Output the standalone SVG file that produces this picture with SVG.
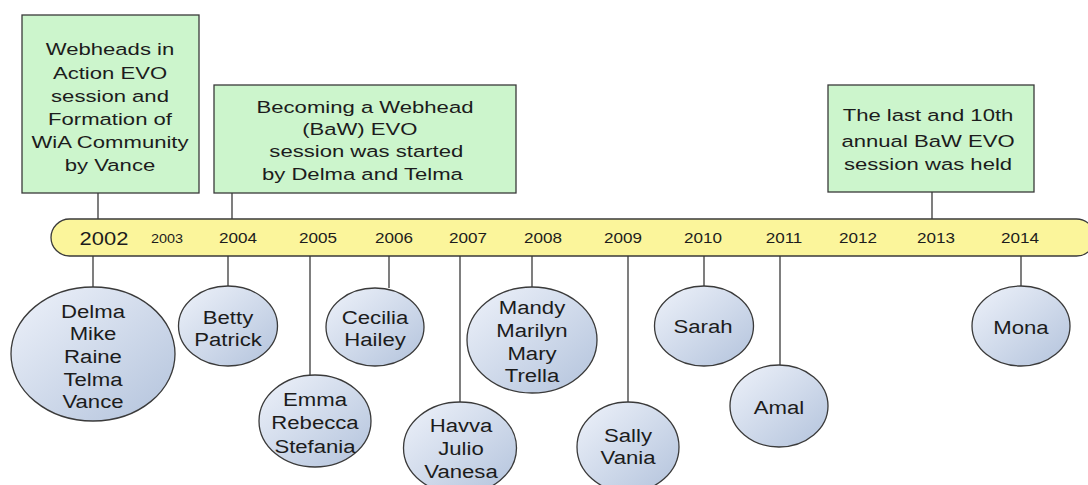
<svg xmlns="http://www.w3.org/2000/svg" width="1088" height="485" viewBox="0 0 1088 485">
<defs>
<linearGradient id="eg" x1="0" y1="0" x2="1" y2="1">
<stop offset="0" stop-color="#eef2fa"/>
<stop offset="1" stop-color="#b3c3dc"/>
</linearGradient>
<style>
.box{fill:#ccf5cc;stroke:#3a3a3a;stroke-width:1.3}
.ell{fill:url(#eg);stroke:#3a3a3a;stroke-width:1.3}
.tl{fill:#fbf59b;stroke:#3a3a3a;stroke-width:1.3}
.con line{stroke:#3a3a3a;stroke-width:1.3}
text{font-family:"Liberation Sans",Arial,sans-serif;fill:#1c1c1c;text-anchor:middle}
.t{font-size:17px}
.e{font-size:18px}
.y{font-size:14px}
</style>
</defs>
<rect width="1088" height="485" fill="#ffffff"/>

<g id="connectors" class="con">
<line x1="98" y1="193" x2="98" y2="219"/>
<line x1="232" y1="193" x2="232" y2="219"/>
<line x1="932" y1="192" x2="932" y2="219"/>
<line x1="93" y1="256" x2="93" y2="287"/>
<line x1="228" y1="256" x2="228" y2="287"/>
<line x1="310" y1="256" x2="310" y2="375"/>
<line x1="389" y1="256" x2="389" y2="288"/>
<line x1="460" y1="256" x2="460" y2="402"/>
<line x1="532" y1="256" x2="532" y2="287"/>
<line x1="628" y1="256" x2="628" y2="402"/>
<line x1="704" y1="256" x2="704" y2="287"/>
<line x1="780" y1="256" x2="780" y2="365"/>
<line x1="1021" y1="256" x2="1021" y2="287"/>
</g>

<g id="box-2002">
<rect class="box" x="22" y="15" width="177" height="178"/>
<text class="t" transform="translate(110,0) scale(1.3,1)"><tspan x="0" y="55">Webheads in</tspan><tspan x="0" y="79">Action EVO</tspan><tspan x="0" y="102">session and</tspan><tspan x="0" y="125">Formation of</tspan><tspan x="0" y="148">WiA Community</tspan><tspan x="0" y="171">by Vance</tspan></text>
</g>

<g id="box-2004">
<rect class="box" x="214" y="85" width="302" height="108"/>
<text class="t" transform="translate(365,0) scale(1.3,1)"><tspan x="0" y="113">Becoming a Webhead</tspan><tspan x="-4" y="135">(BaW) EVO</tspan><tspan x="1" y="157">session was started</tspan><tspan x="-2" y="180">by Delma and Telma</tspan></text>
</g>

<g id="box-2013">
<rect class="box" x="828" y="85" width="206" height="107"/>
<text class="t" transform="translate(928,0) scale(1.3,1)"><tspan x="0" y="121">The last and 10th</tspan><tspan x="0" y="147">annual BaW EVO</tspan><tspan x="0" y="170">session was held</tspan></text>
</g>

<g id="timeline">
<rect class="tl" x="51" y="219" width="1044" height="37" rx="18.5" ry="18.5"/>
<text style="font-size:18px" transform="translate(104,245) scale(1.22,1)">2002</text>
<text style="font-size:12px" transform="translate(167,243) scale(1.2,1)">2003</text>
<text class="y" transform="translate(238,243) scale(1.22,1)">2004</text>
<text class="y" transform="translate(318,243) scale(1.22,1)">2005</text>
<text class="y" transform="translate(394,243) scale(1.22,1)">2006</text>
<text class="y" transform="translate(468,243) scale(1.22,1)">2007</text>
<text class="y" transform="translate(543,243) scale(1.22,1)">2008</text>
<text class="y" transform="translate(623,243) scale(1.22,1)">2009</text>
<text class="y" transform="translate(703,243) scale(1.22,1)">2010</text>
<text class="y" transform="translate(784,243) scale(1.22,1)">2011</text>
<text class="y" transform="translate(858,243) scale(1.22,1)">2012</text>
<text class="y" transform="translate(936,243) scale(1.22,1)">2013</text>
<text class="y" transform="translate(1020,243) scale(1.22,1)">2014</text>
</g>

<g id="p-2002">
<ellipse class="ell" cx="93" cy="354" rx="82" ry="67"/>
<text class="e" transform="translate(93,0) scale(1.23,1)"><tspan x="0" y="318">Delma</tspan><tspan x="0" y="340">Mike</tspan><tspan x="0" y="363">Raine</tspan><tspan x="0" y="386">Telma</tspan><tspan x="0" y="408">Vance</tspan></text>
</g>
<g id="p-2004">
<ellipse class="ell" cx="228" cy="326" rx="49.5" ry="40"/>
<text class="e" transform="translate(228,0) scale(1.23,1)"><tspan x="0" y="324">Betty</tspan><tspan x="0" y="346">Patrick</tspan></text>
</g>
<g id="p-2005">
<ellipse class="ell" cx="315" cy="421" rx="56" ry="46"/>
<text class="e" transform="translate(315,0) scale(1.23,1)"><tspan x="0" y="406">Emma</tspan><tspan x="0" y="429">Rebecca</tspan><tspan x="0" y="453">Stefania</tspan></text>
</g>
<g id="p-2006">
<ellipse class="ell" cx="375" cy="327" rx="49" ry="39"/>
<text class="e" transform="translate(375,0) scale(1.23,1)"><tspan x="0" y="324">Cecilia</tspan><tspan x="0" y="346">Hailey</tspan></text>
</g>
<g id="p-2007">
<ellipse class="ell" cx="460" cy="448" rx="56.5" ry="46"/>
<text class="e" transform="translate(461,0) scale(1.23,1)"><tspan x="0" y="432">Havva</tspan><tspan x="0" y="455">Julio</tspan><tspan x="0" y="478">Vanesa</tspan></text>
</g>
<g id="p-2008">
<ellipse class="ell" cx="532" cy="340" rx="65" ry="53"/>
<text class="e" transform="translate(532,0) scale(1.23,1)"><tspan x="0" y="314">Mandy</tspan><tspan x="0" y="337">Marilyn</tspan><tspan x="0" y="360">Mary</tspan><tspan x="0" y="382">Trella</tspan></text>
</g>
<g id="p-2009">
<ellipse class="ell" cx="628" cy="447" rx="51" ry="45"/>
<text class="e" transform="translate(628,0) scale(1.23,1)"><tspan x="0" y="442">Sally</tspan><tspan x="0" y="464">Vania</tspan></text>
</g>
<g id="p-2010">
<ellipse class="ell" cx="704" cy="326" rx="49.5" ry="40"/>
<text class="e" transform="translate(703,333) scale(1.23,1)">Sarah</text>
</g>
<g id="p-2011">
<ellipse class="ell" cx="779" cy="406" rx="49" ry="41"/>
<text class="e" transform="translate(779,414) scale(1.23,1)">Amal</text>
</g>
<g id="p-2014">
<ellipse class="ell" cx="1021" cy="326" rx="49" ry="40"/>
<text class="e" transform="translate(1021,334) scale(1.23,1)">Mona</text>
</g>
</svg>
